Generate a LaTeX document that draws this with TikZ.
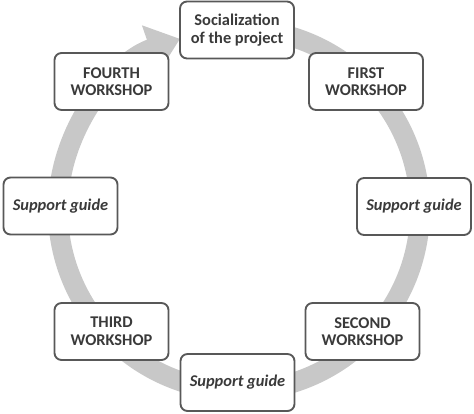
\documentclass[tikz,border=0pt]{standalone}
\usepackage{fontspec}
\setmainfont{Carlito}
\usepackage{tikz}
\usetikzlibrary{positioning,arrows.meta}
\definecolor{RingGray}{RGB}{200,200,200}
\definecolor{BoxGray}{RGB}{88,88,88}
\definecolor{TextGray}{RGB}{58,58,58}

\begin{document}
\begin{tikzpicture}[
    x=0.03cm,y=0.03cm,
    stage/.style={rectangle,draw=BoxGray,line width=1.6pt,rounded corners=6pt,fill=white,
        minimum width=3.42cm,minimum height=1.71cm,align=center,text=TextGray,
        font=\fontsize{14}{15}\selectfont\bfseries},
    guide/.style={stage,font=\fontsize{14}{15}\selectfont\bfseries\itshape},
    ring/.style={line width=0.6cm,RingGray,-{Triangle[width=1.45cm,length=0.95cm]}}
]
\useasboundingbox (0,0) rectangle (474,413);

% Cycle
\coordinate (ctr) at (239,203);
\draw[ring] (ctr) ++(80:181) arc[start angle=80,end angle=-251,radius=181];

% Stages
\node[stage] (soc) at (237,383) {Socialization\\of the project};
\node[stage] (first) at (366,331.5) {FIRST\\WORKSHOP};
\node[guide] (supR) at (414,206.5) {Support guide};
\node[stage] (second) at (362.5,81.5) {SECOND\\WORKSHOP};
\node[guide] (supB) at (237.5,30.5) {Support guide};
\node[stage] (third) at (111.5,81.5) {THIRD\\WORKSHOP};
\node[guide] (supL) at (60.5,207) {Support guide};
\node[stage] (fourth) at (111.5,331.5) {FOURTH\\WORKSHOP};
\end{tikzpicture}
\end{document}
